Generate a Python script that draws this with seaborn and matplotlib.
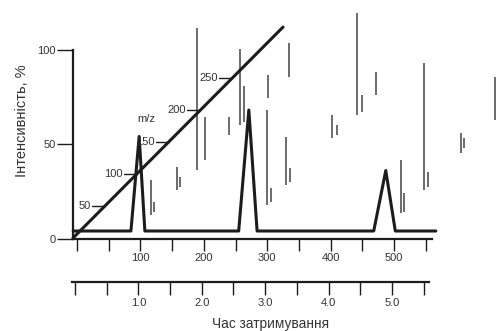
import matplotlib
matplotlib.use("Agg")
import matplotlib.pyplot as plt
import numpy as np
import pandas as pd
import seaborn as sns

# --- data -------------------------------------------------------------
# total-ion chromatogram (m/z scale on x, relative intensity on y)
trace_mz = [-6, 85, 98, 107, 255, 271, 284, 468, 487, 502, 566]
trace_int = [4, 4, 54, 4, 4, 68, 4, 4, 36, 4, 4]

# mass-spectrum sticks: position and intensity range of each line
stick_mz = [117, 121.5, 158, 162.5, 189, 202, 240, 257, 263, 300, 306, 301,
            334, 330, 336, 402, 410, 442, 449.5, 472, 511, 516, 547, 554,
            606, 610, 659]
stick_lo = [12.4, 14.0, 25.7, 27.2, 36.2, 41.5, 54.8, 60.1, 61.6, 17.7, 19.3,
            74.3, 85.4, 28.3, 29.9, 53.2, 54.8, 65.3, 66.9, 75.9, 13.5, 14.0,
            25.7, 27.2, 45.2, 47.9, 62.7]
stick_hi = [31.0, 19.3, 37.8, 32.5, 111.4, 64.3, 64.3, 100.3, 80.7, 68.0, 26.7,
            86.5, 103.4, 53.7, 37.3, 65.3, 60.0, 119.3, 75.9, 88.1, 41.5, 24.1,
            92.9, 35.2, 55.8, 53.2, 85.4]

# m/z scan line drawn diagonally, with its own scale
diag_x = [-6.3, 325]
diag_y = [0.3, 111.9]
diag_scale_max = 330
diag_ticks = [50, 100, 150, 200, 250]

# axis scales
int_ticks = [0, 50, 100]
mz_ticks = list(range(0, 551, 50))
mz_labels = [str(v) if 100 <= v <= 500 and v % 100 == 0 else "" for v in mz_ticks]
time_ticks = [i * 0.5 for i in range(12)]
time_labels = [f"{v:.1f}" if v >= 1 and v % 1 == 0 and v <= 5 else "" for v in time_ticks]

ylabel = "Інтенсивність, %"
xlabel = "Час затримування"

# --- style ------------------------------------------------------------
sns.set_theme(style="white")
plt.rcParams["font.family"] = ["Liberation Sans", "DejaVu Sans"]

INK = "#1c1c1c"
TXT = "#333333"

fig = plt.figure(figsize=(4.98, 3.31), dpi=100)
ax = fig.add_axes([0, 0, 1, 1])
ax.set_xlim(-121.5, 664)
ax.set_ylim(-48.9, 126.2)
ax.grid(False)
ax.set_facecolor("white")

# spectrum sticks
ax.vlines(stick_mz, stick_lo, stick_hi, colors="#444444", lw=1.1, zorder=2)

# chromatogram
sns.lineplot(x=trace_mz, y=trace_int, sort=False, estimator=None,
             color=INK, lw=2.2, ax=ax, zorder=3)

# diagonal scan line with its scale
sns.lineplot(x=diag_x, y=diag_y, sort=False, estimator=None,
             color=INK, lw=2.2, ax=ax, zorder=3)
tick_len = 20.5  # in m/z units (~13 px)
for v in diag_ticks:
    f = v / diag_scale_max
    xt = diag_x[0] + f * (diag_x[1] - diag_x[0])
    yt = diag_y[0] + f * (diag_y[1] - diag_y[0])
    ax.plot([xt - tick_len, xt], [yt, yt], color=INK, lw=1.0, zorder=3)
    ax.text(xt - tick_len - 1.5, yt, str(v), ha="right", va="center",
            fontsize=8, color=TXT, zorder=4)
ax.text(110, 63, "m/z", ha="center", va="center", fontsize=8, color=TXT)

# main axes
for s in ["top", "right"]:
    ax.spines[s].set_visible(False)
ax.spines["left"].set_position(("data", -6.3))
ax.spines["left"].set_bounds(0, 100)
ax.spines["bottom"].set_position(("data", 0))
ax.spines["bottom"].set_bounds(-6.3, 560)
for s in ["left", "bottom"]:
    ax.spines[s].set_color(INK)
    ax.spines[s].set_linewidth(1.6)

ax.set_yticks(int_ticks)
ax.set_yticklabels([str(v) for v in int_ticks])
ax.set_xticks(mz_ticks)
ax.set_xticklabels(mz_labels)
ax.tick_params(axis="y", left=True, direction="out", length=11.5, width=1.0,
               pad=1.0, labelsize=8, color=INK, labelcolor=TXT)
ax.tick_params(axis="x", bottom=True, direction="out", length=8.4, width=1.0,
               pad=2.0, labelsize=8, color=INK, labelcolor=TXT)

# retention-time axis
ax2 = fig.add_axes([0, 0, 1, 1], facecolor="none")
ax2.set_xlim(-1.183, 6.672)
ax2.set_ylim(0, 1)
ax2.grid(False)
for s in ["top", "right", "left"]:
    ax2.spines[s].set_visible(False)
ax2.spines["bottom"].set_position(("axes", 49 / 331))
ax2.spines["bottom"].set_bounds(-0.047, 5.584)
ax2.spines["bottom"].set_color(INK)
ax2.spines["bottom"].set_linewidth(1.6)
ax2.set_yticks([])
ax2.set_xticks(time_ticks)
ax2.set_xticklabels(time_labels)
ax2.tick_params(axis="x", bottom=True, direction="out", length=9.4, width=1.0,
                pad=2.0, labelsize=8, color=INK, labelcolor=TXT)

# axis titles
fig.text(22 / 498, 1 - 121 / 331, ylabel, rotation=90, ha="center",
         va="center", fontsize=10.5, color=TXT)
fig.text(271 / 498, 1 - 324 / 331, xlabel, ha="center", va="center",
         fontsize=9.8, color=TXT)

fig.savefig("out.png", dpi=100)
